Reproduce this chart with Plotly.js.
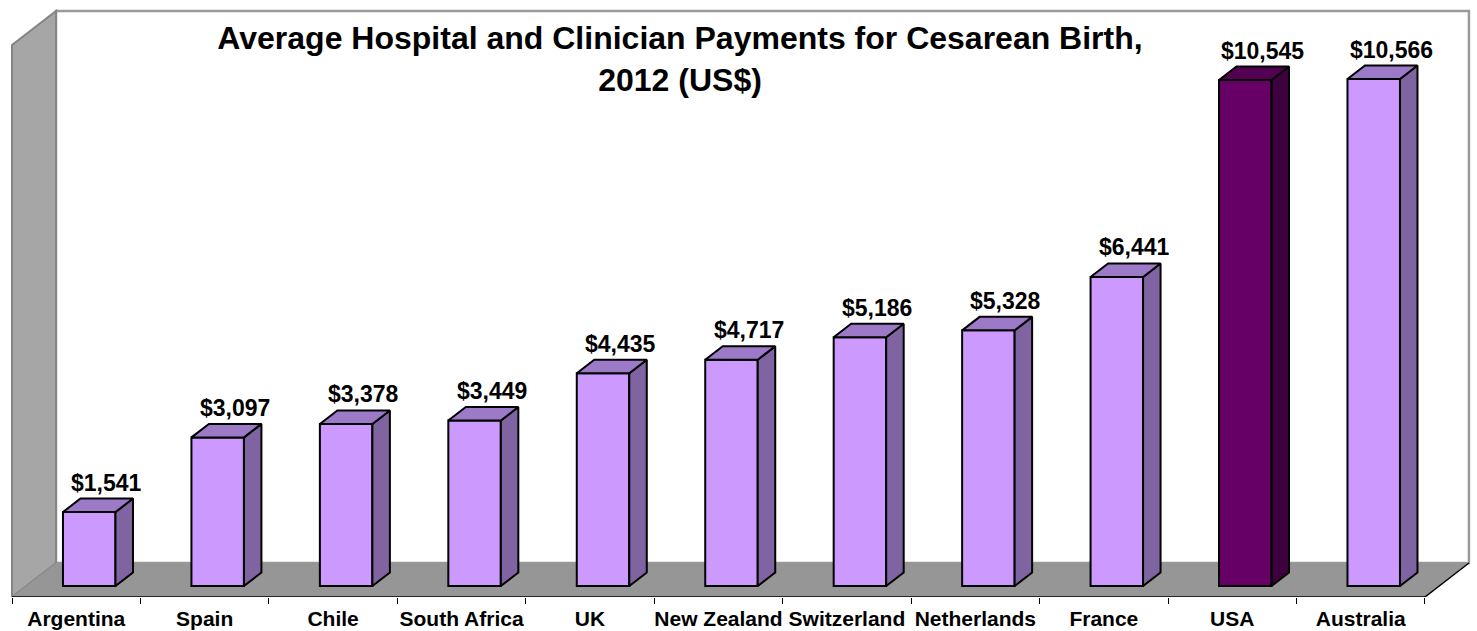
<!DOCTYPE html>
<html>
<head>
<meta charset="utf-8">
<script src="https://cdn.plot.ly/plotly-3.0.1.min.js"></script>
<style>html,body{margin:0;padding:0;background:#fff;}#chart{width:1477px;height:631px;}</style>
</head>
<body>
<div id="chart"></div>
<script>
// ---- data ----
const categories = ["Argentina","Spain","Chile","South Africa","UK","New Zealand","Switzerland","Netherlands","France","USA","Australia"];
const payments = [1541, 3097, 3378, 3449, 4435, 4717, 5186, 5328, 6441, 10545, 10566];
const highlight = "USA";
const titleText = "Average Hospital and Clinician Payments for Cesarean Birth,<br>2012 (US$)";

// ---- layout geometry (pixels) ----
const W = 1477, H = 631, MB = 34, PLOT_H = H - MB;
const PX_PER_CAT = 128.45, X0PX = 12;   // left floor edge pixel
const PX_PER_USD = 0.04798;
const ux = px => px / PX_PER_CAT;
const uy = px => px / PX_PER_USD;
const WALL = {dx: 44, dy: 34, h: 552};
const BAR = {shiftX: 13, shiftY: 11, w: 52.5, dx: 17.5, dy: 13.5};
const FONT = "Liberation Sans, Arial, sans-serif";

const colors = {
  light: {front: "#CC99FF", side: "#8064A2", top: "#9C7AC8"},
  dark:  {front: "#660066", side: "#3F003F", top: "#520052"}
};

const nCat = categories.length;
const uL = -0.5, uR = nCat - 0.5;
function P(u, v, dxpx, dypx) { return [u + ux(dxpx), v + uy(dypx)]; }
function path(pts) { return "M" + pts.map(p => p[0] + "," + p[1]).join(" L") + " Z"; }

const wallTop = uy(WALL.h);
const shapes = [
  // back wall
  {type: "path", layer: "below", xref: "x", yref: "y",
   path: path([P(uL,0,WALL.dx,WALL.dy), P(uL,wallTop,WALL.dx,WALL.dy), P(uR,wallTop,WALL.dx,WALL.dy), P(uR,0,WALL.dx,WALL.dy)]),
   fillcolor: "#FFFFFF", line: {color: "#9A9A9A", width: 2.5}},
  // left wall
  {type: "path", layer: "below", xref: "x", yref: "y",
   path: path([P(uL,0,0,0), P(uL,wallTop,0,0), P(uL,wallTop,WALL.dx,WALL.dy), P(uL,0,WALL.dx,WALL.dy)]),
   fillcolor: "#A6A6A6", line: {color: "#858585", width: 2}},
  // floor
  {type: "path", layer: "below", xref: "x", yref: "y",
   path: path([P(uL,0,0,0), P(uR,0,0,0), P(uR,0,WALL.dx,WALL.dy), P(uL,0,WALL.dx,WALL.dy)]),
   fillcolor: "#969696", line: {width: 0}},
  // front edge + right edge of floor
  {type: "path", layer: "below", xref: "x", yref: "y",
   path: "M" + P(uL,0,0,0).join(",") + " L" + P(uR,0,0,0).join(",") + " L" + P(uR,0,WALL.dx,WALL.dy).join(","),
   line: {color: "#000000", width: 1.5}}
];

const barColors = categories.map(c => c === highlight ? colors.dark.front : colors.light.front);
const traces = [{
  type: "bar", x: categories.map((c, i) => i), y: payments,
  base: uy(BAR.shiftY), width: ux(BAR.w), offset: ux(BAR.shiftX - BAR.w / 2),
  marker: {color: barColors, line: {color: "#000000", width: 2}},
  hoverinfo: "skip", showlegend: false
}];

const annotations = [];
payments.forEach((v, i) => {
  const c = categories[i] === highlight ? colors.dark : colors.light;
  const yb = uy(BAR.shiftY), yt = yb + v;
  const xl = i + ux(BAR.shiftX - BAR.w / 2), xr = i + ux(BAR.shiftX + BAR.w / 2);
  const ddx = ux(BAR.dx), ddy = uy(BAR.dy);
  traces.push({type: "scatter", mode: "lines", fill: "toself", fillcolor: c.side,
    x: [xr, xr + ddx, xr + ddx, xr, xr], y: [yb, yb + ddy, yt + ddy, yt, yb],
    line: {color: "#000000", width: 2}, hoverinfo: "skip", showlegend: false});
  traces.push({type: "scatter", mode: "lines", fill: "toself", fillcolor: c.top,
    x: [xl, xr, xr + ddx, xl + ddx, xl], y: [yt, yt, yt + ddy, yt + ddy, yt],
    line: {color: "#000000", width: 2}, hoverinfo: "skip", showlegend: false});
  annotations.push({xref: "x", yref: "y", x: i + ux(BAR.shiftX + BAR.dx), y: yt + ddy,
    text: "$" + v.toLocaleString("en-US"), showarrow: false, yanchor: "bottom", xanchor: "center", yshift: 1,
    font: {family: FONT, size: 23, color: "#000000", weight: 700}});
});

const layout = {
  width: W, height: H,
  margin: {l: 0, r: 0, t: 0, b: MB},
  paper_bgcolor: "#FFFFFF", plot_bgcolor: "#FFFFFF",
  showlegend: false, hovermode: false,
  title: {text: titleText, x: 0.4604, xanchor: "center", xref: "paper", y: 0.922, yanchor: "top", yref: "container",
          font: {family: FONT, size: 32, color: "#000000", weight: 700}},
  xaxis: {range: [uL - ux(X0PX), uL + ux(W - X0PX)], showgrid: false, zeroline: false, showline: false,
          tickmode: "array", tickvals: categories.map((c, i) => i), ticktext: categories, ticks: "",
          ticklabelstandoff: 7,
          tickfont: {family: FONT, size: 21, color: "#000000", weight: 700},
          minor: {tick0: -0.5, dtick: 1, ticks: "outside", ticklen: 6, tickcolor: "#000000", tickwidth: 1, showgrid: false},
          fixedrange: true},
  yaxis: {range: [0, uy(PLOT_H)], visible: false, fixedrange: true},
  shapes: shapes, annotations: annotations, bargap: 0
};

Plotly.newPlot("chart", traces, layout, {staticPlot: true, displayModeBar: false});
</script>
</body>
</html>
